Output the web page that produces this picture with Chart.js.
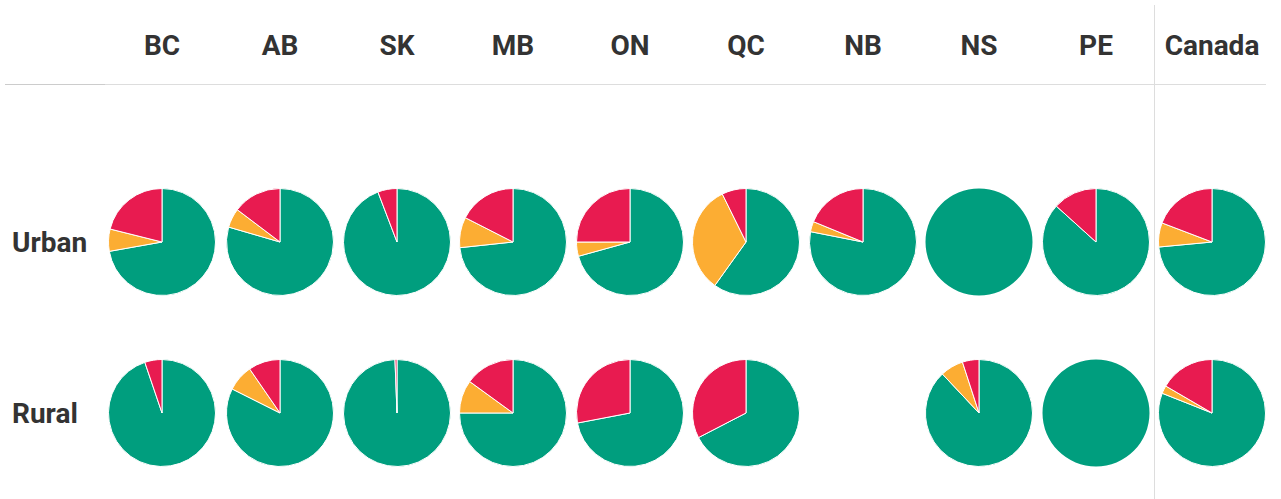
<!DOCTYPE html>
<html>
<head>
<meta charset="utf-8">
<script src="https://cdn.jsdelivr.net/npm/chart.js@4"></script>
<style>
  html, body { margin: 0; padding: 0; background: #fff; }
  body { width: 1281px; height: 499px; position: relative; overflow: hidden; font-family: Roboto, Arial, sans-serif; color: #333; }
  .head { position: absolute; top: 45px; transform: translate(-50%, -50%); font-weight: 700; font-size: 28px; white-space: nowrap; }
  .row { position: absolute; left: 12px; transform: translateY(-50%); font-weight: 700; font-size: 28px; }
  .pie { position: absolute; }
  #hline { position: absolute; left: 5px; top: 84px; width: 1261px; height: 1px; background: #ddd; }
  #hline2 { position: absolute; left: 5px; top: 84px; width: 100px; height: 1px; background: #ccc; }
  #vline { position: absolute; left: 1154px; top: 5px; width: 1px; height: 494px; background: #ddd; }
</style>
</head>
<body>
<div id="hline"></div>
<div id="hline2"></div>
<div id="vline"></div>
<script>
// Pie grid: urban vs rural, by province
const regions = ['BC', 'AB', 'SK', 'MB', 'ON', 'QC', 'NB', 'NS', 'PE', 'Canada'];
const rows = ['Urban', 'Rural'];

// share of each pie, in percent (green, orange, red)
const urbanGreen  = [72.2, 79.5, 94.2, 73.3, 70.7, 59.9, 78.1, 100, 86.7, 73.5];
const urbanOrange = [6.7, 5.8, 0, 9.2, 4.3, 32.8, 3.1, 0, 0, 7.3];
const urbanRed    = [21.1, 14.7, 5.8, 17.5, 25.0, 7.3, 18.8, 0, 13.3, 19.2];

const ruralGreen  = [94.8, 82.4, 99.4, 75.0, 72.0, 67.4, null, 88.0, 100, 81.0];
const ruralOrange = [0, 8.0, 0, 10.0, 0, 0, null, 7.0, 0, 2.4];
const ruralRed    = [5.2, 9.6, 0.6, 15.0, 28.0, 32.6, null, 5.0, 0, 16.6];

const colors = ['#009e7e', '#fcad33', '#e81b50'];

const colX = [162, 280, 397, 513, 630, 746, 863, 979, 1096, 1212];
const rowY = [242, 413];
const size = 108;

regions.forEach((r, i) => {
  const d = document.createElement('div');
  d.className = 'head';
  d.style.left = colX[i] + 'px';
  d.textContent = r;
  document.body.appendChild(d);
});

rows.forEach((r, j) => {
  const d = document.createElement('div');
  d.className = 'row';
  d.style.top = rowY[j] + 'px';
  d.textContent = r;
  document.body.appendChild(d);
});

const series = [
  [urbanGreen, urbanOrange, urbanRed],
  [ruralGreen, ruralOrange, ruralRed]
];

series.forEach((s, j) => {
  regions.forEach((r, i) => {
    if (s[0][i] === null) return; // no data
    const c = document.createElement('canvas');
    c.className = 'pie';
    c.width = size;
    c.height = size;
    c.style.left = (colX[i] - size / 2) + 'px';
    c.style.top = (rowY[j] - size / 2) + 'px';
    document.body.appendChild(c);
    new Chart(c, {
      type: 'pie',
      data: {
        labels: ['Green', 'Orange', 'Red'],
        datasets: [{
          data: [s[0][i], s[1][i], s[2][i]],
          backgroundColor: colors,
          // empty or full slices get no visible border (no stray white line)
          borderColor: ctx => (ctx.raw > 0 && ctx.raw < 100 ? '#fff' : 'rgba(0,0,0,0)'),
          borderWidth: 1
        }]
      },
      options: {
        responsive: false,
        animation: false,
        devicePixelRatio: 1,
        layout: { padding: 0 },
        plugins: { legend: { display: false }, tooltip: { enabled: false } }
      }
    });
  });
});
</script>
</body>
</html>
